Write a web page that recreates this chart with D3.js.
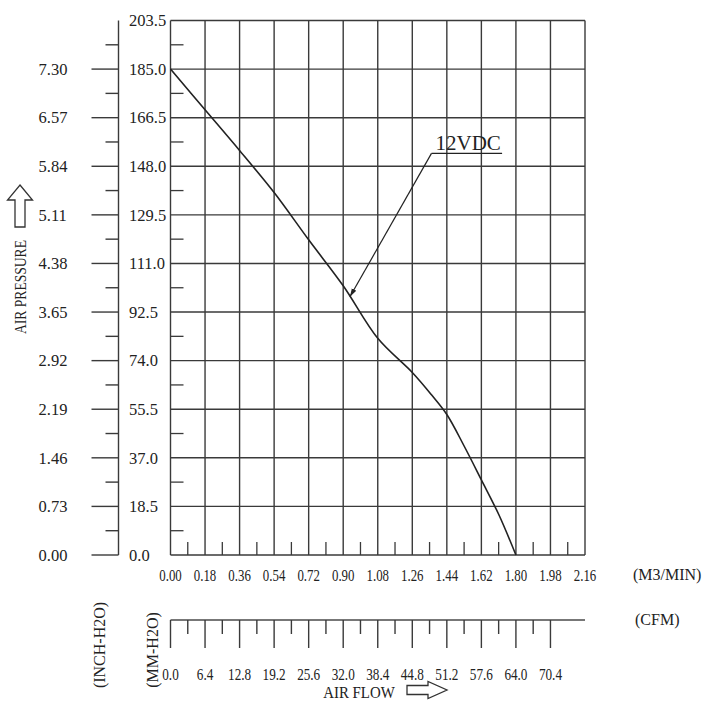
<!DOCTYPE html>
<html>
<head>
<meta charset="utf-8">
<script src="https://cdn.jsdelivr.net/npm/d3@7"></script>
<style>
  body { margin: 0; background: #fff; }
  text { font-family: 'Liberation Serif', 'Times New Roman', serif; fill: #222; }
</style>
</head>
<body>
<div id="chart"></div>
<script>
// fan curve (air flow in m3/min, pressure in mm-H2O)
let flowM3 = [0, 0.18, 0.36, 0.54, 0.72, 0.9, 1.08, 1.26, 1.36, 1.44, 1.53, 1.62, 1.71, 1.8]
let pressureMM = [185.0, 169.5, 154.0, 138.0, 120.0, 102.5, 82.5, 69.5, 61.0, 53.5, 41.5, 28.6, 15.5, 0]

let flowTicks = [0, 0.18, 0.36, 0.54, 0.72, 0.9, 1.08, 1.26, 1.44, 1.62, 1.8, 1.98, 2.16]
let cfmTicks = [0, 6.4, 12.8, 19.2, 25.6, 32.0, 38.4, 44.8, 51.2, 57.6, 64.0, 70.4]
let mmTicks = [0, 18.5, 37.0, 55.5, 74.0, 92.5, 111.0, 129.5, 148.0, 166.5, 185.0, 203.5]
let inchTicks = [0, 0.73, 1.46, 2.19, 2.92, 3.65, 4.38, 5.11, 5.84, 6.57, 7.30]

let seriesName = '12VDC'
// where the label sits and what it points at, in chart units
let labelAt = { flow: 1.36, mm: 152.9, end: 1.728 }
let pointAt = { flow: 0.935, mm: 98.3 }

let width = 705
let height = 703

let svg = d3
  .select('#chart')
  .append('svg')
  .attr('width', width)
  .attr('height', height)

let xPositionScale = d3.scaleLinear().domain([0, 2.16]).range([170.5, 585])
let cfmScale = d3.scaleLinear().domain([0, 76.8]).range([170.5, 585])
let yPositionScale = d3.scaleLinear().domain([0, 203.5]).range([555, 20.5])
let inchScale = d3.scaleLinear().domain([0, 7.30 * 203.5 / 185]).range([555, 20.5])

let gridColor = '#3a3a3a'
let x0 = xPositionScale(0)
let x1 = xPositionScale(2.16)
let yBottom = yPositionScale(0)
let yTop = yPositionScale(203.5)

// grid
svg
  .selectAll('.v-grid')
  .data(flowTicks)
  .enter()
  .append('line')
  .attr('class', 'v-grid')
  .attr('x1', d => xPositionScale(d))
  .attr('x2', d => xPositionScale(d))
  .attr('y1', yTop)
  .attr('y2', yBottom)
  .attr('stroke', gridColor)
  .attr('stroke-width', 1.4)

svg
  .selectAll('.h-grid')
  .data(mmTicks)
  .enter()
  .append('line')
  .attr('class', 'h-grid')
  .attr('x1', x0)
  .attr('x2', x1)
  .attr('y1', d => yPositionScale(d))
  .attr('y2', d => yPositionScale(d))
  .attr('stroke', gridColor)
  .attr('stroke-width', 1.4)

// small ticks inside the plot, half way between grid lines
let flowMinor = flowTicks.slice(1).map((d, i) => (d + flowTicks[i]) / 2)
let mmMinor = mmTicks.slice(1).map((d, i) => (d + mmTicks[i]) / 2)

svg
  .selectAll('.x-minor')
  .data(flowMinor)
  .enter()
  .append('line')
  .attr('x1', d => xPositionScale(d))
  .attr('x2', d => xPositionScale(d))
  .attr('y1', yBottom)
  .attr('y2', yBottom - 13)
  .attr('stroke', gridColor)
  .attr('stroke-width', 1.3)

svg
  .selectAll('.y-minor')
  .data(mmMinor)
  .enter()
  .append('line')
  .attr('x1', x0)
  .attr('x2', x0 + 13)
  .attr('y1', d => yPositionScale(d))
  .attr('y2', d => yPositionScale(d))
  .attr('stroke', gridColor)
  .attr('stroke-width', 1.3)

// mm-H2O labels, left aligned
svg
  .selectAll('.mm-label')
  .data(mmTicks)
  .enter()
  .append('text')
  .attr('x', 129)
  .attr('y', d => yPositionScale(d))
  .attr('dy', '0.35em')
  .attr('font-size', 16.5)
  .text(d => d3.format('.1f')(d))

// inch-H2O axis
let inchAxis = svg.append('g').attr('transform', 'translate(118.5,0)')
inchAxis
  .append('line')
  .attr('x1', 0)
  .attr('x2', 0)
  .attr('y1', yTop)
  .attr('y2', yBottom)
  .attr('stroke', gridColor)
  .attr('stroke-width', 1.4)
inchAxis
  .selectAll('.inch-tick')
  .data(inchTicks)
  .enter()
  .append('line')
  .attr('x1', -27)
  .attr('x2', 0)
  .attr('y1', d => inchScale(d))
  .attr('y2', d => inchScale(d))
  .attr('stroke', gridColor)
  .attr('stroke-width', 1.4)
inchAxis
  .selectAll('.inch-minor')
  .data(mmMinor)
  .enter()
  .append('line')
  .attr('x1', -13)
  .attr('x2', 0)
  .attr('y1', d => yPositionScale(d))
  .attr('y2', d => yPositionScale(d))
  .attr('stroke', gridColor)
  .attr('stroke-width', 1.4)
inchAxis
  .selectAll('.inch-label')
  .data(inchTicks)
  .enter()
  .append('text')
  .attr('x', -80)
  .attr('y', d => inchScale(d))
  .attr('dy', '0.35em')
  .attr('font-size', 16.5)
  .text(d => d3.format('.2f')(d))

// m3/min labels
svg
  .selectAll('.flow-label')
  .data(flowTicks)
  .enter()
  .append('text')
  .attr('text-anchor', 'middle')
  .attr('font-size', 16.5)
  .attr('transform', d => `translate(${xPositionScale(d)},581) scale(0.78,1)`)
  .text(d => d3.format('.2f')(d))

svg
  .append('text')
  .attr('x', 633)
  .attr('y', 580)
  .attr('font-size', 16)
  .text('(M3/MIN)')

// CFM axis
let cfmY = 620
svg
  .append('line')
  .attr('x1', cfmScale(0))
  .attr('x2', 585)
  .attr('y1', cfmY)
  .attr('y2', cfmY)
  .attr('stroke', '#777')
  .attr('stroke-width', 2)
svg
  .selectAll('.cfm-tick')
  .data(cfmTicks)
  .enter()
  .append('line')
  .attr('x1', d => cfmScale(d))
  .attr('x2', d => cfmScale(d))
  .attr('y1', cfmY)
  .attr('y2', cfmY + 28)
  .attr('stroke', gridColor)
  .attr('stroke-width', 1.4)
let cfmMinor = cfmTicks.slice(1).map((d, i) => (d + cfmTicks[i]) / 2)
svg
  .selectAll('.cfm-minor')
  .data(cfmMinor)
  .enter()
  .append('line')
  .attr('x1', d => cfmScale(d))
  .attr('x2', d => cfmScale(d))
  .attr('y1', cfmY)
  .attr('y2', cfmY + 14)
  .attr('stroke', gridColor)
  .attr('stroke-width', 1.4)
svg
  .selectAll('.cfm-label')
  .data(cfmTicks)
  .enter()
  .append('text')
  .attr('text-anchor', 'middle')
  .attr('font-size', 16.5)
  .attr('transform', d => `translate(${cfmScale(d)},680) scale(0.8,1)`)
  .text(d => d3.format('.1f')(d))

svg
  .append('text')
  .attr('x', 635)
  .attr('y', 625)
  .attr('font-size', 16)
  .text('(CFM)')

// rotated unit labels
svg
  .append('text')
  .attr('transform', 'translate(99,645) rotate(-90)')
  .attr('text-anchor', 'middle')
  .attr('dy', '0.35em')
  .attr('font-size', 16)
  .text('(INCH-H2O)')
svg
  .append('text')
  .attr('transform', 'translate(152,650) rotate(-90)')
  .attr('text-anchor', 'middle')
  .attr('dy', '0.35em')
  .attr('font-size', 16)
  .text('(MM-H2O)')

// axis titles with hollow arrows
svg
  .append('text')
  .attr('transform', 'translate(20,287) rotate(-90) scale(0.85,1)')
  .attr('text-anchor', 'middle')
  .attr('dy', '0.35em')
  .attr('font-size', 16)
  .text('AIR PRESSURE')
svg
  .append('path')
  .attr('d', 'M20,185 L32.5,200 L25,200 L25,227 L15,227 L15,200 L7.5,200 Z')
  .attr('fill', 'none')
  .attr('stroke', '#333')
  .attr('stroke-width', 1.3)

svg
  .append('text')
  .attr('transform', 'translate(359,698) scale(0.93,1)')
  .attr('text-anchor', 'middle')
  .attr('font-size', 16)
  .text('AIR FLOW')
svg
  .append('path')
  .attr('d', 'M407,685.5 L428,685.5 L428,681.5 L447,690 L428,698.5 L428,694.5 L407,694.5 Z')
  .attr('fill', 'none')
  .attr('stroke', '#333')
  .attr('stroke-width', 1.3)

// curve
let points = flowM3.map((d, i) => ({ flow: d, mm: pressureMM[i] }))
let line = d3
  .line()
  .x(d => xPositionScale(d.flow))
  .y(d => yPositionScale(d.mm))
  .curve(d3.curveCatmullRom.alpha(0.5))

svg
  .append('path')
  .datum(points)
  .attr('d', line)
  .attr('fill', 'none')
  .attr('stroke', '#222')
  .attr('stroke-width', 1.6)

// label with leader and arrow
svg
  .append('defs')
  .append('marker')
  .attr('id', 'tip')
  .attr('viewBox', '0 0 10 10')
  .attr('refX', 10)
  .attr('refY', 5)
  .attr('markerWidth', 7)
  .attr('markerHeight', 7)
  .attr('orient', 'auto')
  .append('path')
  .attr('d', 'M0,2 L10,5 L0,8 Z')
  .attr('fill', '#222')

svg
  .append('line')
  .attr('x1', xPositionScale(labelAt.flow))
  .attr('y1', yPositionScale(labelAt.mm))
  .attr('x2', xPositionScale(pointAt.flow))
  .attr('y2', yPositionScale(pointAt.mm))
  .attr('stroke', '#222')
  .attr('stroke-width', 1.2)
  .attr('marker-end', 'url(#tip)')
svg
  .append('line')
  .attr('x1', xPositionScale(labelAt.flow))
  .attr('x2', xPositionScale(labelAt.end))
  .attr('y1', yPositionScale(labelAt.mm))
  .attr('y2', yPositionScale(labelAt.mm))
  .attr('stroke', '#222')
  .attr('stroke-width', 1.2)
svg
  .append('text')
  .attr('x', xPositionScale(labelAt.flow) + 4)
  .attr('y', yPositionScale(labelAt.mm) - 3)
  .attr('font-size', 21)
  .text(seriesName)
</script>
</body>
</html>
